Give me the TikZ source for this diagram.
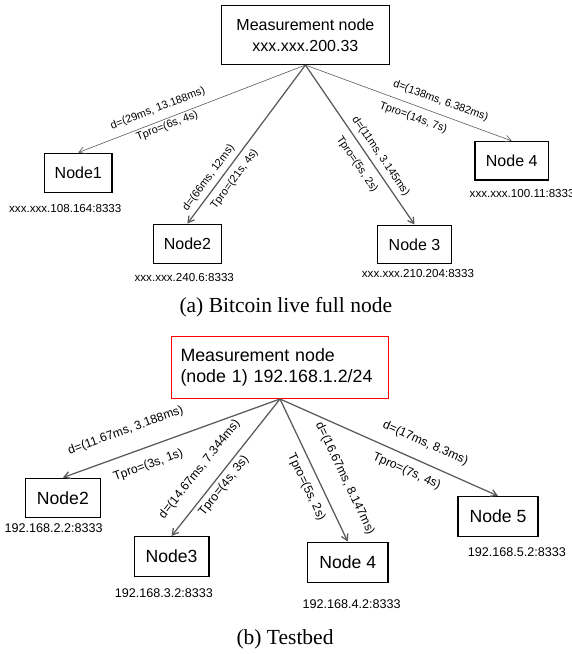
\documentclass[tikz,border=0pt]{standalone}
\usepackage{fontspec}
\setmainfont{Liberation Serif}
\setsansfont{Liberation Sans}
\usetikzlibrary{arrows.meta}

\begin{document}
\begin{tikzpicture}[x=1pt, y=-1pt, >={Straight Barb[length=6pt,width=7pt]},
    every node/.style={font=\sffamily},
    host/.style={draw, line width=1.5pt, inner sep=0pt},
    hosta/.style={host, font=\sffamily\fontsize{16}{19}\selectfont},
    hostb/.style={host, font=\sffamily\fontsize{17.6}{21}\selectfont},
    ipa/.style={inner sep=0pt, font=\sffamily\fontsize{11.6}{14}\selectfont},
    ipb/.style={inner sep=0pt, font=\sffamily\fontsize{12.6}{15}\selectfont},
    lbla/.style={sloped, inner sep=0pt, font=\sffamily\fontsize{10.9}{13}\selectfont},
    lblb/.style={sloped, inner sep=0pt, font=\sffamily\fontsize{12.2}{14}\selectfont},
    link/.style={->, draw=black!65, line width=1.25pt},
    thinlink/.style={->, draw=black!65, line width=0.6pt},
    capt/.style={inner sep=0pt, font=\rmfamily\fontsize{21.5}{25}\selectfont}]
  \useasboundingbox (0,0) rectangle (572,654);

  % (a) Bitcoin live full node
  \node[host, minimum width=168pt, minimum height=58.6pt, align=center,
    font=\sffamily\fontsize{16}{21}\selectfont] (ma) at (305.4,35) {Measurement node\\xxx.xxx.200.33};

  \node[hosta, minimum width=67.5pt, minimum height=39.4pt] (a1) at (78.3,173) {Node1};
  \node[hosta, minimum width=68.3pt, minimum height=39pt] (a2) at (187.4,243.8) {Node2};
  \node[hosta, minimum width=73.7pt, minimum height=38pt] (a3) at (414.5,244.3) {Node 3};
  \node[hosta, minimum width=73.3pt, minimum height=38.3pt] (a4) at (511.7,160.8) {Node 4};

  \node[ipa] (ia1) at (65.3,209) {xxx.xxx.108.164:8333};
  \node[ipa] (ia2) at (184.3,277.7) {xxx.xxx.240.6:8333};
  \node[ipa] (ia3) at (418,273.3) {xxx.xxx.210.204:8333};
  \node[ipa, anchor=west] (ia4) at (469.5,193.3) {xxx.xxx.100.11:8333};

  % links with delay and propagation time
  \draw[thinlink] (ma.south) -- node[lbla, pos=.63, above=6.9pt] (da1) {d=(29ms, 13.188ms)}
    node[lbla, pos=.62, below=1.9pt] (ta1) {Tpro=(6s, 4s)} (a1.north);
  \draw[link] (ma.south) -- node[lbla, pos=.749, above=4.6pt] (da2) {d=(66ms, 12ms)}
    node[lbla, pos=.678, below=5.8pt] (ta2) {Tpro=(21s, 4s)} (a2.north);
  \draw[link] (ma.south) -- node[lbla, pos=.609, above=4.9pt] (da3) {d=(11ms, 3.145ms)}
    node[lbla, pos=.575, below=7.8pt] (ta3) {Tpro=(5s, 2s)} (a3.north);
  \draw[thinlink] (ma.south) -- node[lbla, pos=.634, above=7.4pt] (da4) {d=(138ms, 6.382ms)}
    node[lbla, pos=.543, below=6.8pt] (ta4) {Tpro=(14s, 7s)} (a4.north);

  \node[capt] (capa) at (285.8,307) {(a) Bitcoin live full node};

  % (b) Testbed
  \node[draw=red, line width=1.4pt, inner xsep=9pt, inner ysep=0pt, text width=199pt,
    minimum height=61.6pt, align=left, font=\sffamily\fontsize{17.8}{20.5}\selectfont]
    (mb) at (280,367.5) {Measurement node\\(node 1) 192.168.1.2/24};

  \node[hostb, minimum width=74.8pt, minimum height=39.4pt] (b2) at (62.9,498) {Node2};
  \node[hostb, minimum width=74.7pt, minimum height=40pt] (b3) at (171.6,556.7) {Node3};
  \node[hostb, minimum width=80.2pt, minimum height=40.4pt] (b4) at (347.7,562.5) {Node 4};
  \node[hostb, minimum width=80.2pt, minimum height=40pt] (b5) at (498,516.7) {Node 5};

  \node[ipb] (ib2) at (53.6,527.7) {192.168.2.2:8333};
  \node[ipb] (ib3) at (163.8,592.7) {192.168.3.2:8333};
  \node[ipb] (ib4) at (351.7,604.3) {192.168.4.2:8333};
  \node[ipb] (ib5) at (516.8,552.3) {192.168.5.2:8333};

  \draw[link] (mb.south) -- node[lblb, pos=.675, above=16.3pt] (db2) {d=(11.67ms, 3.188ms)}
    node[lblb, pos=.634, below=11.4pt] (tb2) {Tpro=(3s, 1s)} (b2.north);
  \draw[link] (mb.south) -- node[lblb, pos=.601, above=13pt] (db3) {d=(14.67ms, 7.344ms)}
    node[lblb, pos=.59, below=3.7pt] (tb3) {Tpro=(4s, 3s)} (b3.north);
  \draw[link] (mb.south) -- node[lblb, pos=.632, above=18pt] (db4) {d=(16.67ms, 8.147ms)}
    node[lblb, pos=.575, below=7.7pt] (tb4) {Tpro=(5s, 2s)} (b4.north);
  \draw[link] (mb.south) -- node[lblb, pos=.632, above=12.2pt] (db5) {d=(17ms, 8.3ms)}
    node[lblb, pos=.608, below=8.2pt] (tb5) {Tpro=(7s, 4s)} (b5.north);

  \node[capt] (capb) at (285,639) {(b) Testbed};
\end{tikzpicture}
\end{document}
